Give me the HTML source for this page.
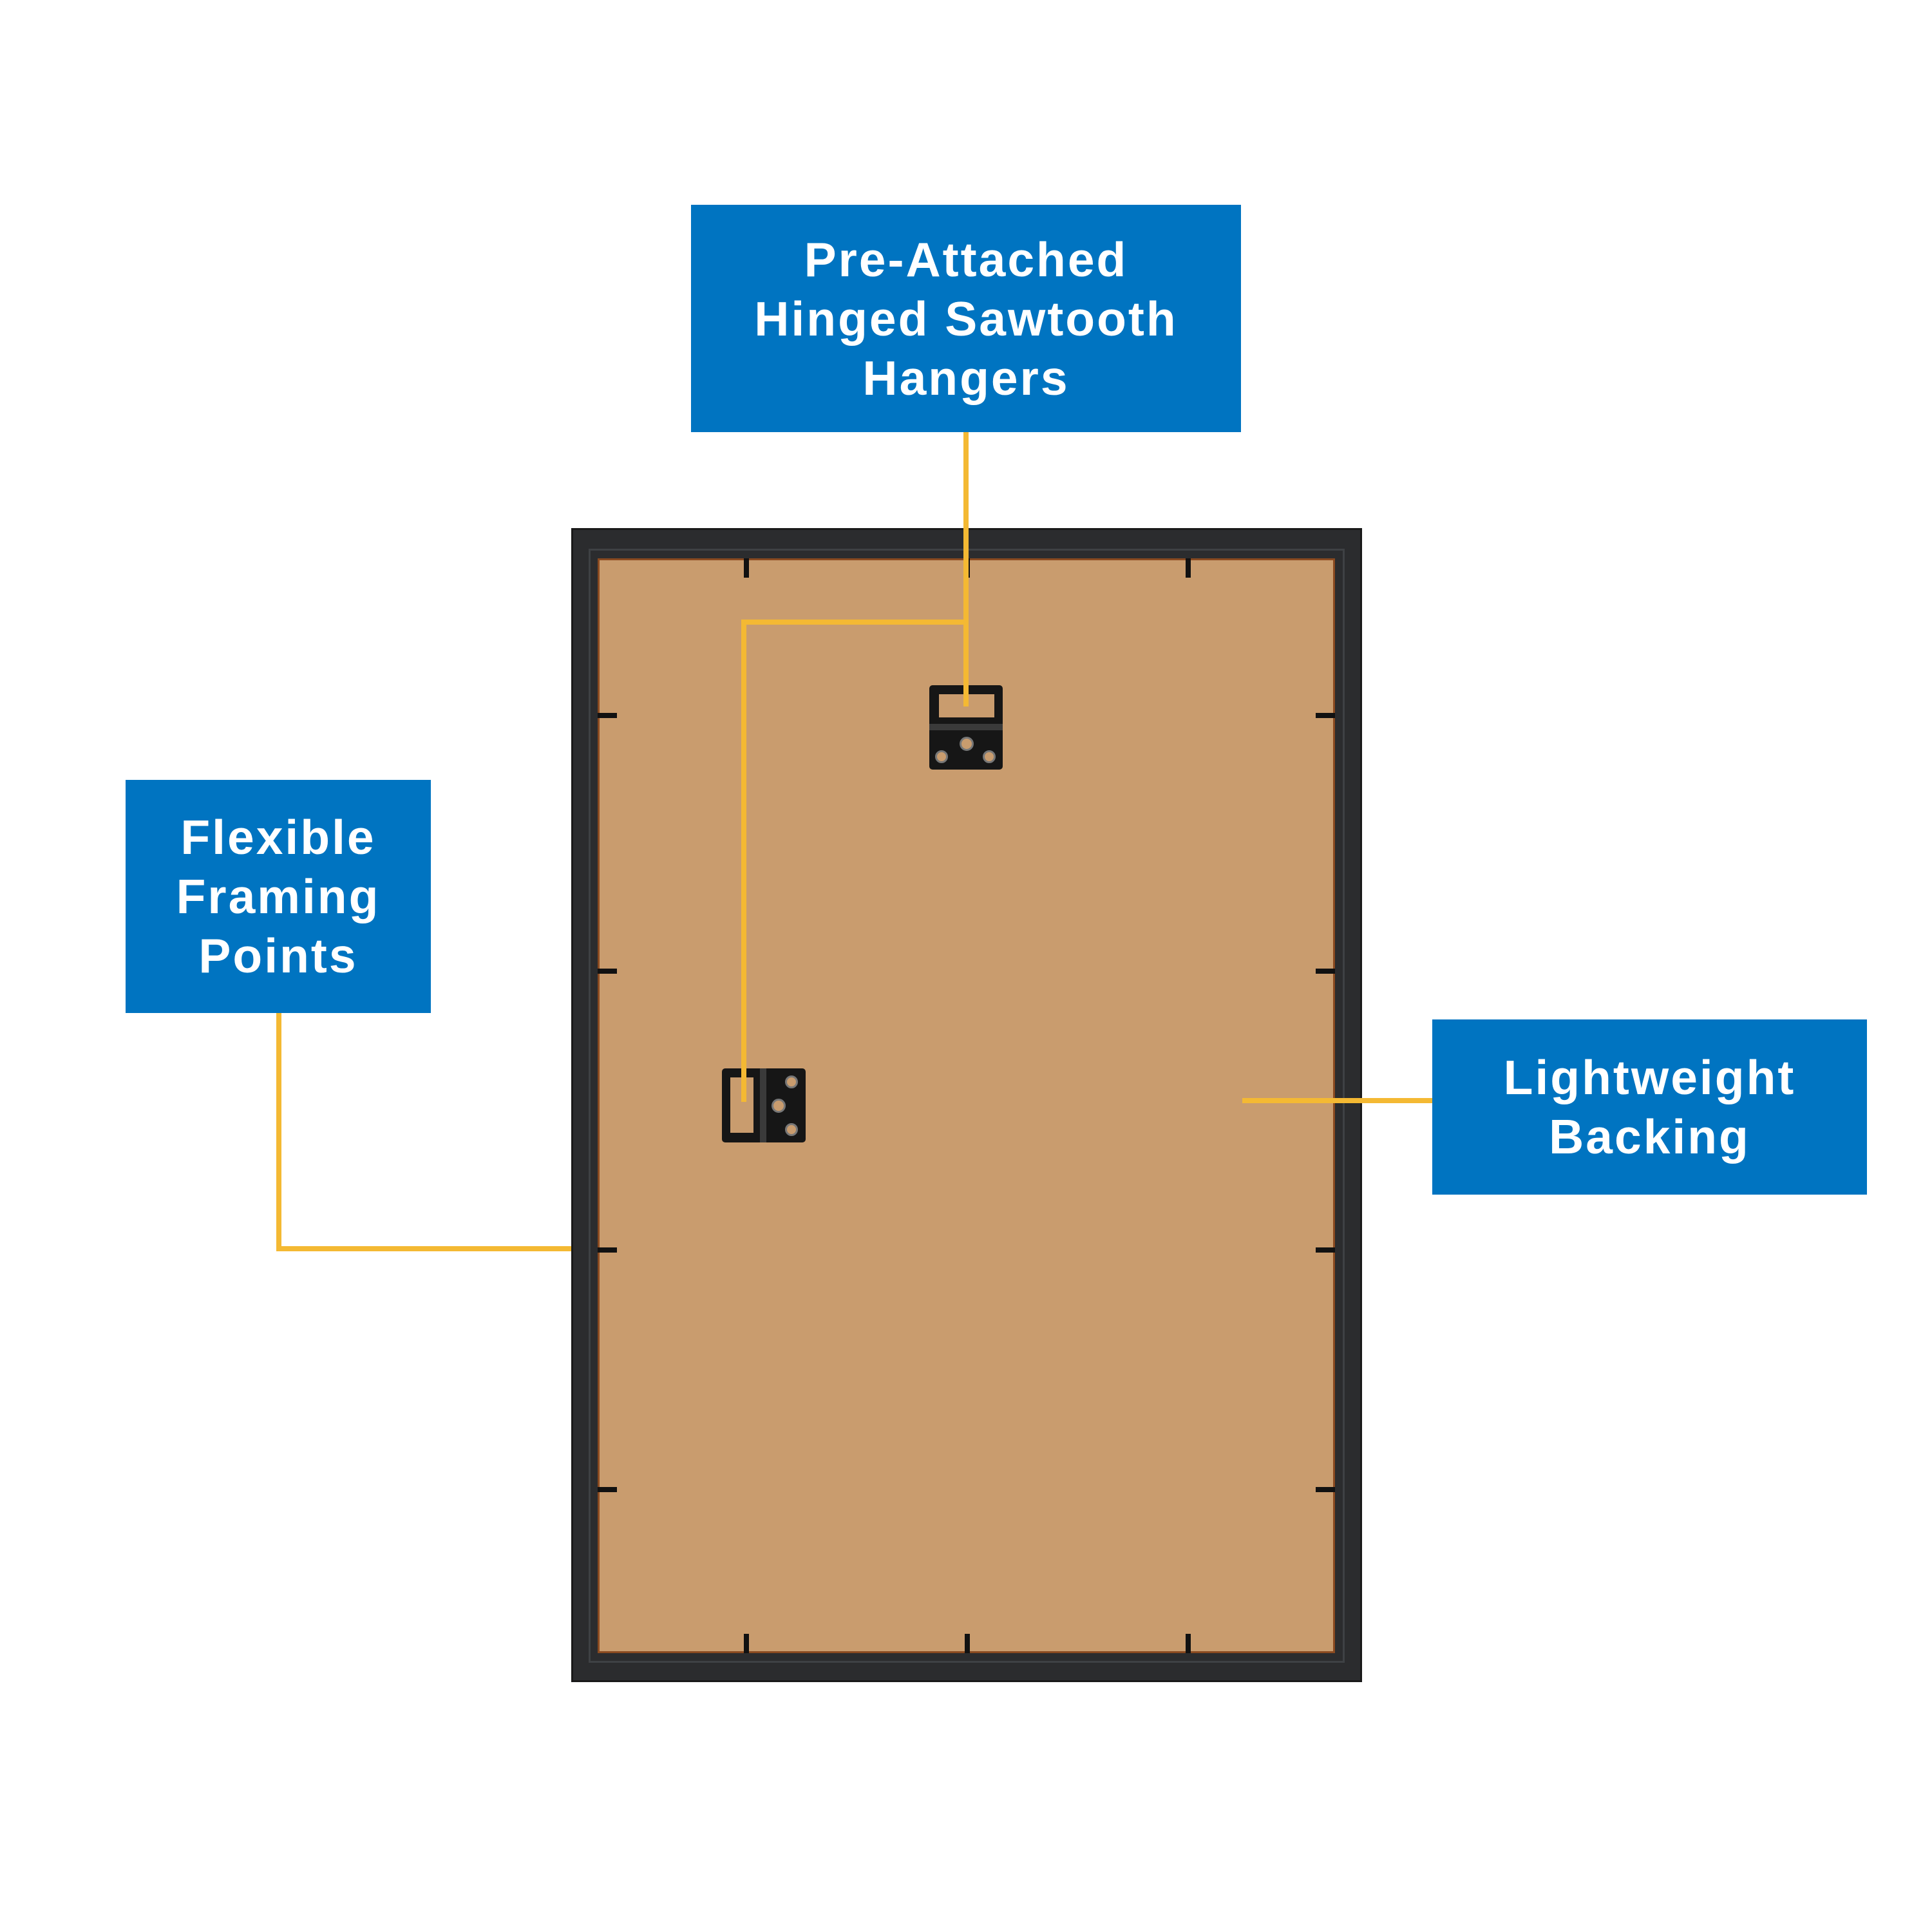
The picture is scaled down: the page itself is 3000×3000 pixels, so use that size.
<!DOCTYPE html>
<html><head><meta charset="utf-8"><style>
body{margin:0;width:3000px;height:3000px;background:#fff;position:relative;overflow:hidden;font-family:"Liberation Sans",sans-serif}
div{position:absolute;box-sizing:border-box}
.box{background:#0074c1;color:#fff;font-weight:bold;font-size:75px;line-height:92px;letter-spacing:3px;display:flex;align-items:center;justify-content:center;text-align:center}
.l{background:#f4b933}
.t{background:#111}
</style></head><body>
<div style="left:887px;top:820px;width:1228px;height:1792px;background:#2b2c2e;border:3px solid #1a1a1a"></div>
<div style="left:914px;top:852px;width:1174px;height:1730px;border:3px solid #3e4144"></div>
<div style="left:928px;top:867px;width:1145px;height:1700px;background:#c99c6e;border:3px solid #8a4a20"></div>
<div class="t" style="left:1155px;top:867px;width:8px;height:30px"></div>
<div class="t" style="left:1498px;top:867px;width:8px;height:30px"></div>
<div class="t" style="left:1841px;top:867px;width:8px;height:30px"></div>
<div class="t" style="left:1155px;top:2537px;width:8px;height:30px"></div>
<div class="t" style="left:1498px;top:2537px;width:8px;height:30px"></div>
<div class="t" style="left:1841px;top:2537px;width:8px;height:30px"></div>
<div class="t" style="left:928px;top:1107px;width:30px;height:8px"></div>
<div class="t" style="left:928px;top:1504px;width:30px;height:8px"></div>
<div class="t" style="left:928px;top:1937px;width:30px;height:8px"></div>
<div class="t" style="left:928px;top:2309px;width:30px;height:8px"></div>
<div class="t" style="left:2043px;top:1107px;width:30px;height:8px"></div>
<div class="t" style="left:2043px;top:1504px;width:30px;height:8px"></div>
<div class="t" style="left:2043px;top:1937px;width:30px;height:8px"></div>
<div class="t" style="left:2043px;top:2309px;width:30px;height:8px"></div>
<div style="left:1443px;top:1064px;width:114px;height:131px;background:#161616;border-radius:5px"></div>
<div style="left:1458px;top:1078px;width:86px;height:36px;background:#c99c6e"></div>
<div style="left:1443px;top:1124px;width:114px;height:10px;background:#3a3a3a"></div>
<div style="left:1452px;top:1165px;width:20px;height:20px;border-radius:50%;background:#c99c6e;border:3px solid #777"></div>
<div style="left:1490px;top:1144px;width:22px;height:22px;border-radius:50%;background:#c99c6e;border:3px solid #777"></div>
<div style="left:1526px;top:1165px;width:20px;height:20px;border-radius:50%;background:#c99c6e;border:3px solid #777"></div>
<div style="left:1121px;top:1659px;width:130px;height:115px;background:#161616;border-radius:5px"></div>
<div style="left:1134px;top:1673px;width:36px;height:86px;background:#c99c6e"></div>
<div style="left:1180px;top:1659px;width:10px;height:115px;background:#3a3a3a"></div>
<div style="left:1219px;top:1670px;width:20px;height:20px;border-radius:50%;background:#c99c6e;border:3px solid #777"></div>
<div style="left:1198px;top:1706px;width:22px;height:22px;border-radius:50%;background:#c99c6e;border:3px solid #777"></div>
<div style="left:1219px;top:1744px;width:20px;height:20px;border-radius:50%;background:#c99c6e;border:3px solid #777"></div>
<div class="l" style="left:1496px;top:671px;width:8px;height:426px"></div>
<div class="l" style="left:1151px;top:962px;width:353px;height:8px"></div>
<div class="l" style="left:1151px;top:962px;width:8px;height:749px"></div>
<div class="l" style="left:429px;top:1573px;width:8px;height:370px"></div>
<div class="l" style="left:429px;top:1935px;width:458px;height:8px"></div>
<div class="l" style="left:1929px;top:1705px;width:295px;height:8px"></div>
<div class="box" style="left:1073px;top:318px;width:854px;height:353px">Pre-Attached<br>Hinged Sawtooth<br>Hangers</div>
<div class="box" style="left:195px;top:1211px;width:474px;height:362px">Flexible<br>Framing<br>Points</div>
<div class="box" style="left:2224px;top:1583px;width:675px;height:272px">Lightweight<br>Backing</div>
</body></html>
